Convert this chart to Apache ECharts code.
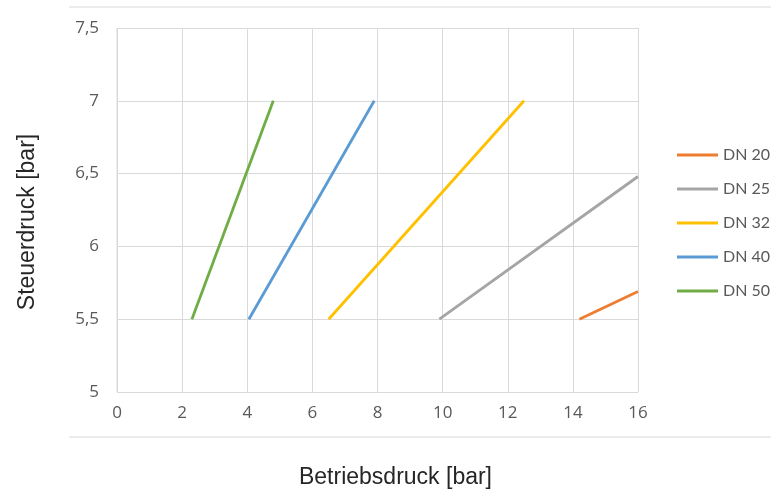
<!DOCTYPE html>
<html><head><meta charset="utf-8">
<script src="https://cdn.jsdelivr.net/npm/echarts@6/dist/echarts.min.js"></script>
<style>html,body{margin:0;padding:0;background:#fff}#c{width:771px;height:490px}</style>
</head><body><div id="c"></div>
<script>
var seriesNames = ['DN 20','DN 25','DN 32','DN 40','DN 50'];
var seriesColors = ['#ED7D31','#A5A5A5','#FFC000','#5B9BD5','#70AD47'];
var dn20 = [[14.2,5.5],[16,5.69]];
var dn25 = [[9.9,5.5],[16,6.48]];
var dn32 = [[6.5,5.5],[12.5,7]];
var dn40 = [[4.05,5.5],[7.9,7]];
var dn50 = [[2.3,5.5],[4.8,7]];
var seriesData = [dn20,dn25,dn32,dn40,dn50];
var xTitle = 'Betriebsdruck [bar]';
var yTitle = 'Steuerdruck [bar]';

var chart = echarts.init(document.getElementById('c'), null, {renderer:'canvas'});
var fmt = function(v){ return String(v).replace('.', ','); };
chart.setOption({
  animation:false,
  backgroundColor:'#fff',
  grid:{left:117, right:133, top:28, bottom:98, containLabel:false, outerBoundsMode:'none'},
  legend:{
    orient:'vertical', left:672, top:142, itemGap:18, itemWidth:41, itemHeight:3,
    icon:'rect',
    textStyle:{color:'#595959', fontSize:16, lineHeight:16, fontFamily:'Lato, sans-serif'},
    data:seriesNames
  },
  xAxis:{
    type:'value', min:0, max:16, interval:2,
    name:xTitle, nameLocation:'middle', nameGap:74,
    nameTextStyle:{color:'#262626', fontSize:23, padding:[0,0,0,36], fontFamily:'Liberation Sans, Arial, sans-serif'},
    axisLine:{show:false}, axisTick:{show:false},
    axisLabel:{color:'#595959', fontSize:17, margin:13, fontFamily:'Open Sans, sans-serif'},
    splitLine:{show:true, lineStyle:{color:'#d9d9d9', width:1}}
  },
  yAxis:{
    type:'value', min:5, max:7.5, interval:0.5,
    name:yTitle, nameLocation:'middle', nameGap:78, nameRotate:90,
    nameTextStyle:{color:'#262626', fontSize:23, padding:[0,24,0,0], fontFamily:'Liberation Sans, Arial, sans-serif'},
    axisLine:{show:false}, axisTick:{show:false},
    axisLabel:{color:'#595959', fontSize:17, margin:18, formatter:fmt, fontFamily:'Open Sans, sans-serif'},
    splitLine:{show:true, lineStyle:{color:'#d9d9d9', width:1}}
  },
  graphic:[
    {type:'line', shape:{x1:69,y1:7,x2:771,y2:7}, style:{stroke:'#d9d9d9', lineWidth:1}},
    {type:'line', shape:{x1:69,y1:437,x2:771,y2:437}, style:{stroke:'#d9d9d9', lineWidth:1}},
    {type:'line', shape:{x1:117,y1:28,x2:117,y2:392}, style:{stroke:'#d9d9d9', lineWidth:1}, z:-1}
  ],
  series: seriesNames.map(function(n,i){
    return {name:n, type:'line', data:seriesData[i], showSymbol:false, symbol:'none',
      color:seriesColors[i], lineStyle:{width:2.8, color:seriesColors[i]}};
  })
});
</script></body></html>
